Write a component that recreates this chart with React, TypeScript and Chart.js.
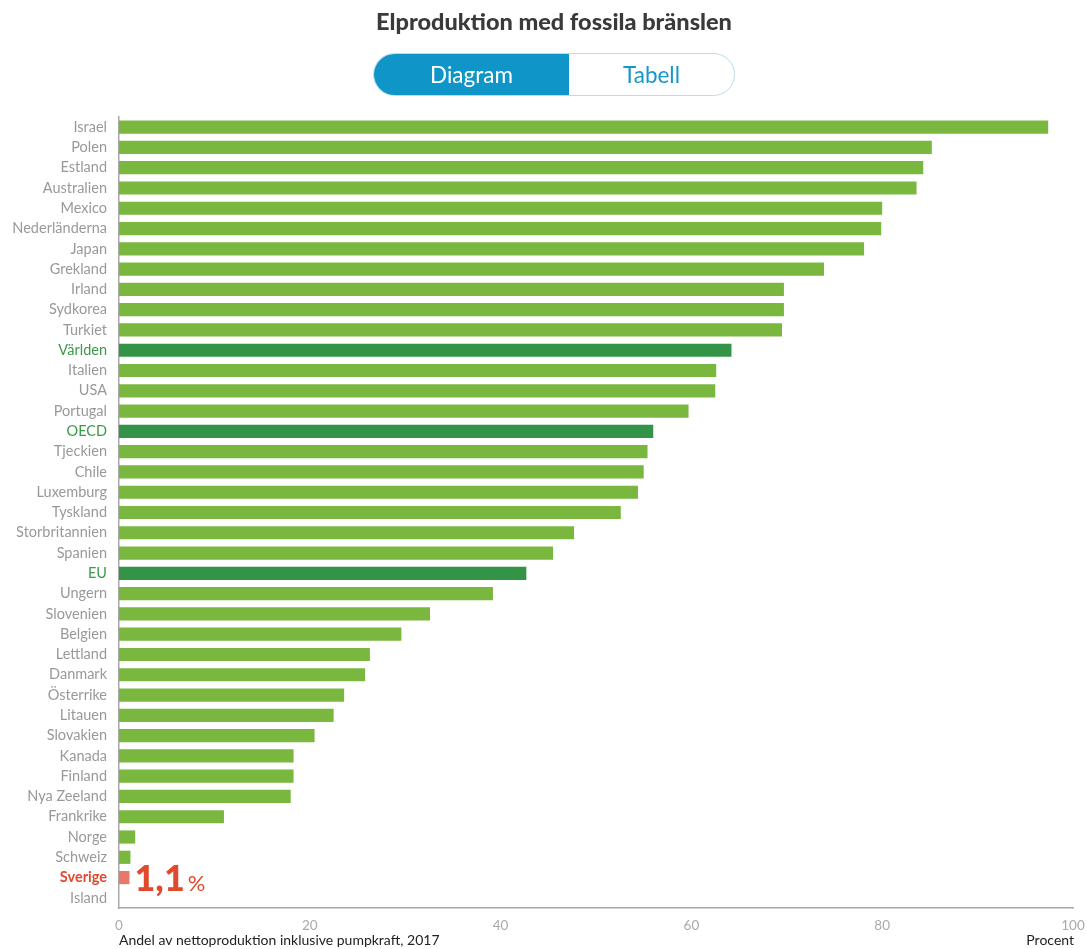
import React, { useEffect, useRef } from "react";
import { Chart, registerables } from "chart.js";

Chart.register(...registerables);

const countries = [
  "Israel", "Polen", "Estland", "Australien", "Mexico", "Nederländerna", "Japan",
  "Grekland", "Irland", "Sydkorea", "Turkiet", "Världen", "Italien", "USA",
  "Portugal", "OECD", "Tjeckien", "Chile", "Luxemburg", "Tyskland",
  "Storbritannien", "Spanien", "EU", "Ungern", "Slovenien", "Belgien",
  "Lettland", "Danmark", "Österrike", "Litauen", "Slovakien", "Kanada",
  "Finland", "Nya Zeeland", "Frankrike", "Norge", "Schweiz", "Sverige", "Island",
];

const values = [
  97.4, 85.2, 84.3, 83.6, 80.0, 79.9, 78.1,
  73.9, 69.7, 69.7, 69.5, 64.2, 62.6, 62.5,
  59.7, 56.0, 55.4, 55.0, 54.4, 52.6,
  47.7, 45.5, 42.7, 39.2, 32.6, 29.6,
  26.3, 25.8, 23.6, 22.5, 20.5, 18.3,
  18.3, 18.0, 11.0, 1.7, 1.2, 1.1, 0.0,
];

const aggregates = ["Världen", "OECD", "EU"];
const highlight = "Sverige";
const highlightText = "1,1";
const xTickValues = [0, 20, 40, 60, 80, 100];
const xAxisNote = "Andel av nettoproduktion inklusive pumpkraft, 2017";
const unitNote = "Procent";

const GREEN = "#7ab73f";
const DARK_GREEN = "#339447";
const SALMON = "#e8786b";
const RED = "#e0492e";
const FONT = "Lato, 'Open Sans', sans-serif";

export default function App() {
  const canvasRef = useRef<HTMLCanvasElement | null>(null);

  useEffect(() => {
    const canvas = canvasRef.current;
    if (!canvas) return;

    const colors = countries.map((c) =>
      c === highlight ? SALMON : aggregates.includes(c) ? DARK_GREEN : GREEN
    );

    const notes = {
      id: "notes",
      afterDraw(chart: any) {
        const { ctx, chartArea, scales } = chart;
        ctx.save();
        ctx.fillStyle = "#222";
        ctx.font = `14px ${FONT}`;
        ctx.textBaseline = "middle";
        ctx.textAlign = "left";
        ctx.fillText(xAxisNote, chartArea.left, 940);
        ctx.textAlign = "right";
        ctx.fillText(unitNote, chartArea.right + 1, 940);

        const idx = countries.indexOf(highlight);
        const x = scales.x.getPixelForValue(values[idx]);
        const y = scales.y.getPixelForValue(idx);
        ctx.fillStyle = RED;
        ctx.textAlign = "left";
        ctx.textBaseline = "alphabetic";
        ctx.font = `900 36px ${FONT}`;
        ctx.fillText(highlightText, x + 5, y + 13);
        const w = ctx.measureText(highlightText).width;
        ctx.font = `22px ${FONT}`;
        ctx.fillText("%", x + 5 + w + 3, y + 13);
        ctx.restore();
      },
    };

    const chart = new Chart(canvas, {
      type: "bar",
      data: {
        labels: countries,
        datasets: [
          {
            data: values,
            backgroundColor: colors,
            borderWidth: 0,
            barPercentage: 0.65,
            categoryPercentage: 1,
          },
        ],
      },
      options: {
        indexAxis: "y",
        responsive: false,
        animation: false,
        layout: { padding: { top: 117, right: 14, bottom: 11, left: 0 } },
        plugins: {
          legend: { display: false },
          tooltip: { enabled: false },
        },
        scales: {
          x: {
            min: 0,
            max: 100,
            afterBuildTicks: (s: any) => {
              s.ticks = xTickValues.map((v) => ({ value: v }));
            },
            afterFit: (s: any) => {
              s.height = 30;
              s.paddingLeft = 0;
              s.paddingRight = 0;
            },
            grid: { display: false, drawTicks: false },
            border: { display: true, color: "#a8a8a8", width: 1.5 },
            ticks: {
              color: "#aaa",
              font: { family: FONT, size: 13.5 },
              padding: 10,
              maxRotation: 0,
            },
          },
          y: {
            type: "category",
            afterFit: (s: any) => {
              s.width = 119;
              s.paddingTop = 0;
              s.paddingBottom = 0;
            },
            grid: { display: false, drawTicks: false },
            border: { display: true, color: "#a8a8a8", width: 1.5 },
            ticks: {
              autoSkip: false,
              padding: 12,
              color: (c: any) => {
                const name = countries[c.index];
                if (name === highlight) return RED;
                if (aggregates.includes(name)) return "#3a9a48";
                return "#999";
              },
              font: (c: any) => {
                const name = countries[c.index];
                return {
                  family: FONT,
                  size: 14.5,
                  weight: name === highlight ? "bold" : "normal",
                };
              },
            },
          },
        },
      },
      plugins: [notes],
    });

    return () => chart.destroy();
  }, []);

  return (
    <div style={{ position: "absolute", left: 0, top: 0, width: 1087, height: 949, background: "#fff" }}>
      <canvas ref={canvasRef} width={1087} height={949} style={{ position: "absolute", left: 0, top: 0 }} />
      <div
        style={{
          position: "absolute",
          left: 0,
          top: 7,
          width: 1108,
          textAlign: "center",
          fontFamily: FONT,
          fontWeight: 900,
          fontSize: 23.5,
          color: "#3a3a3a",
        }}
      >
        Elproduktion med fossila bränslen
      </div>
      <div
        style={{
          position: "absolute",
          left: 373,
          top: 53,
          width: 362,
          height: 43,
          boxSizing: "border-box",
          border: "1.5px solid #b8dcec",
          borderRadius: 22,
          overflow: "hidden",
          display: "flex",
          fontFamily: FONT,
          fontSize: 22.5,
        }}
      >
        <div
          style={{
            width: 195,
            background: "#0f95c7",
            color: "#fff",
            display: "flex",
            alignItems: "center",
            justifyContent: "center",
          }}
        >
          Diagram
        </div>
        <div
          style={{
            flex: 1,
            color: "#1797c9",
            display: "flex",
            alignItems: "center",
            justifyContent: "center",
          }}
        >
          Tabell
        </div>
      </div>
    </div>
  );
}
